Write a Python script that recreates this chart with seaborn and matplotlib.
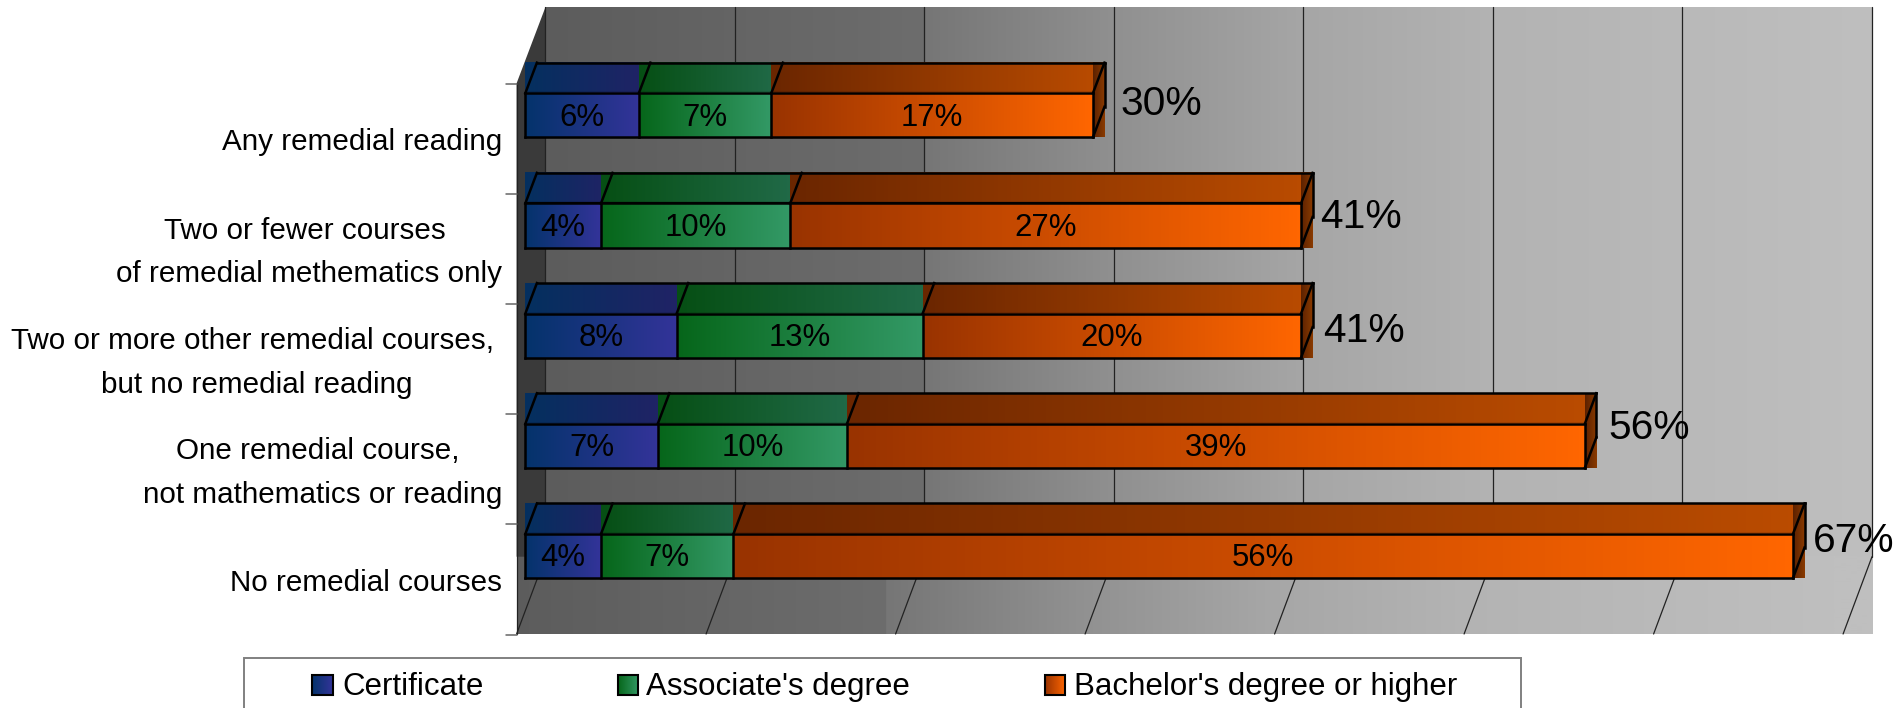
import numpy as np
import pandas as pd
import seaborn as sns
import matplotlib
matplotlib.use("Agg")
import matplotlib.pyplot as plt
from matplotlib.patches import Polygon, Rectangle
from matplotlib.transforms import ScaledTranslation

categories = [
    "Any remedial reading",
    "Two or fewer courses \nof remedial methematics only",
    "Two or more other remedial courses, \nbut no remedial reading",
    "One remedial course, \nnot mathematics or reading",
    "No remedial courses",
]
certificate = [6, 4, 8, 7, 4]
associate = [7, 10, 13, 10, 7]
bachelor = [17, 27, 20, 39, 56]
totals = [30, 41, 41, 56, 67]
series_names = ["Certificate", "Associate's degree", "Bachelor's degree or higher"]

# Gradient stops per series: front face and the darker top face
front_stops = [("#04346b", "#333399"), ("#06661a", "#339966"), ("#993300", "#ff6600")]
top_stops = [("#04305f", "#222266"), ("#064f14", "#226b4a"), ("#6b2600", "#bb4c00")]
side_stops = ("#5c2200", "#8a3a00")

sns.set_theme(style="white")
plt.rcParams["font.family"] = ["Liberation Sans", "DejaVu Sans"]

W, H = 1896, 708
fig = plt.figure(figsize=(W / 100, H / 100), dpi=100, facecolor="white")

# Layout of the pseudo-3D chart, in figure pixels
PX_PER_PCT = 18.92
ZERO_X = 525.3
ROW_Y0, ROW_STEP = 115.3, 110.2
BAR_H = 0.4
DEPTH_X, DEPTH_Y = 11.6, 30.6
WALL_L, WALL_R, WALL_T, WALL_B = 545.5, 1871.7, 7.0, 556.7
FLOOR_L, FLOOR_B = 516.6, 634.0
GRID_STEP = 189.5


def gradient(c0, c1, n=128):
    a = np.array(matplotlib.colors.to_rgb(c0))
    b = np.array(matplotlib.colors.to_rgb(c1))
    return (a + (b - a) * np.linspace(0, 1, n)[:, None])[None, :, :]


# Backdrop: one full-figure axes measured in pixels
bg = fig.add_axes([0, 0, 1, 1], zorder=0)
bg.set_axis_off()

wall_x = [545, 924, 925, 1114, 1303, 1493, 1682, 1872]
wall_v = [0x5c, 0x6d, 0x76, 0x90, 0xa6, 0xb3, 0xb9, 0xbf]


def wall_strip(shift, x0, x1):
    xs = np.arange(int(x0), int(x1))
    v = np.interp(xs, np.array(wall_x) - shift, wall_v) / 255
    return np.dstack([v, v, v])


bg.imshow(wall_strip(0, WALL_L, WALL_R), extent=[WALL_L, WALL_R, WALL_B, WALL_T], aspect="auto", zorder=0)
bg.imshow(wall_strip(40, FLOOR_L, WALL_R), extent=[FLOOR_L, WALL_R, FLOOR_B, WALL_B], aspect="auto", zorder=0)
bg.add_patch(Polygon([(FLOOR_L, 83.3), (WALL_L, WALL_T), (WALL_L, WALL_B), (FLOOR_L, WALL_B)],
                     closed=True, fc="#3a3a3a", ec="none", zorder=1))

# Gridlines run up the back wall and slant across the floor
for k in range(8):
    xb = WALL_L + GRID_STEP * k
    bg.plot([xb, xb], [WALL_T, WALL_B], color="#222222", lw=0.9, zorder=2)
    bg.plot([xb - (WALL_L - FLOOR_L), xb], [FLOOR_B, WALL_B], color="#222222", lw=0.9, zorder=2)
bg.plot([FLOOR_L, FLOOR_L], [83.3, FLOOR_B], color="#222222", lw=0.9, zorder=2)
for k in range(6):
    yt = 83.5 + ROW_STEP * k
    bg.plot([506, FLOOR_L], [yt, yt], color="#666666", lw=1.1, zorder=2)

# Legend panel runs off the bottom edge of the figure
bg.add_patch(Rectangle((244, 657.7), 1277, 80, fc="white", ec="#808080", lw=1.4, zorder=1))
swatch_x = [312.5, 618, 1045]
text_x = [342, 646, 1074]
for name, sx, tx, stops in zip(series_names, swatch_x, text_x, front_stops):
    bg.imshow(gradient(*stops), extent=[sx, sx + 20.5, 695, 675], aspect="auto", zorder=2)
    bg.add_patch(Rectangle((sx, 675), 20.5, 20, fill=False, ec="black", lw=1.5, zorder=3))
    bg.text(tx, 687, name, fontsize=22.5, color="black", va="center", ha="left", zorder=3)
bg.set_xlim(0, W)
bg.set_ylim(H, 0)

# Main axes: x in percent, y in category rows
ax = fig.add_axes(
    [ZERO_X / W, 1 - FLOOR_B / H, 70 * PX_PER_PCT / W, (FLOOR_B - WALL_T) / H], zorder=1
)
ax.patch.set_alpha(0)

values = [np.array(certificate), np.array(associate), np.array(bachelor)]
lefts = [np.zeros(5), np.array(certificate, float), np.array(certificate, float) + np.array(associate)]
bar_groups = []
for name, val, left, stops in zip(series_names, values, lefts, front_stops):
    frame = pd.DataFrame({"group": categories, "percent": val})
    before = len(ax.containers)
    sns.barplot(data=frame, y="group", x="percent", order=categories, orient="y", left=left,
                width=BAR_H, color=stops[1], saturation=1, edgecolor="black", linewidth=1.6,
                ax=ax, zorder=3)
    bar_groups.append(ax.containers[before])

dx = DEPTH_X / PX_PER_PCT
dy = DEPTH_Y / ROW_STEP

for row in range(5):
    y_front = row - BAR_H / 2
    y_back = y_front - dy
    y_low = row + BAR_H / 2
    for s in range(3):
        x0, x1 = lefts[s][row], lefts[s][row] + values[s][row]
        # Top face shading fills its bounding box, so each segment overlaps the one before
        ax.imshow(gradient(*top_stops[s]), extent=[x0, x1 + dx, y_front, y_back], aspect="auto",
                  zorder=2 + 0.1 * s, clip_on=False)
        ax.imshow(gradient(*front_stops[s]), extent=[x0, x1, y_low, y_front], aspect="auto",
                  zorder=3.1, clip_on=False)
    x_end = totals[row]
    ax.imshow(gradient(*side_stops), extent=[x_end, x_end + dx, y_low, y_back], aspect="auto",
              zorder=2.5, clip_on=False)
    # Box outlines
    edge = dict(color="black", lw=1.8, zorder=3.3, clip_on=False, solid_capstyle="projecting")
    x_cuts = [0] + [lefts[s][row] + values[s][row] for s in range(3)]
    for xc in x_cuts:
        ax.plot([xc, xc], [y_low, y_front], **edge)
        ax.plot([xc, xc + dx], [y_front, y_back], **edge)
    ax.plot([0, x_end], [y_low, y_low], **edge)
    ax.plot([0, x_end], [y_front, y_front], **edge)
    ax.plot([dx, x_end + dx], [y_back, y_back], **edge)
    ax.plot([x_end + dx, x_end + dx], [y_back, y_low - dy], **edge)
    ax.plot([x_end, x_end + dx], [y_low, y_low - dy], **edge)

for group, val in zip(bar_groups, values):
    labels = ax.bar_label(group, labels=[f"{v}%" for v in val], label_type="center",
                          fontsize=22.4, color="black", zorder=4)
    for t in labels:
        t.set_zorder(4)
        t.xyann = (0, -1.7)

# Totals sit just past the end of each bar, each nudged by hand
total_shift_x = [28, 19.5, 22, 24, 20]
total_shift_y = [-11, -8.5, -5, -18, -15.5]
for row, total in enumerate(totals):
    ax.annotate(f"{total}%", (total, row), xytext=(total_shift_x[row] * 0.72, -total_shift_y[row] * 0.72),
                textcoords="offset points", fontsize=29.3, color="black", va="center", ha="left",
                annotation_clip=False, zorder=4)

ax.set_xlim(0, 70)
ax.set_ylim((FLOOR_B - ROW_Y0) / ROW_STEP, (WALL_T - ROW_Y0) / ROW_STEP)
ax.set_xlabel("")
ax.set_ylabel("")
ax.set_xticks([])
ax.set_yticks(range(5))
ax.set_yticklabels(categories, fontsize=21.3, color="black", ha="right", ma="center", linespacing=1.72)
ax.tick_params(axis="y", length=0, pad=16.8)
label_drop = ScaledTranslation(0, -27 / 100, fig.dpi_scale_trans)
for tick_label in ax.get_yticklabels():
    tick_label.set_verticalalignment("center")
    tick_label.set_transform(tick_label.get_transform() + label_drop)
for spine in ax.spines.values():
    spine.set_visible(False)

fig.savefig("out.png", dpi=100, facecolor="white")
